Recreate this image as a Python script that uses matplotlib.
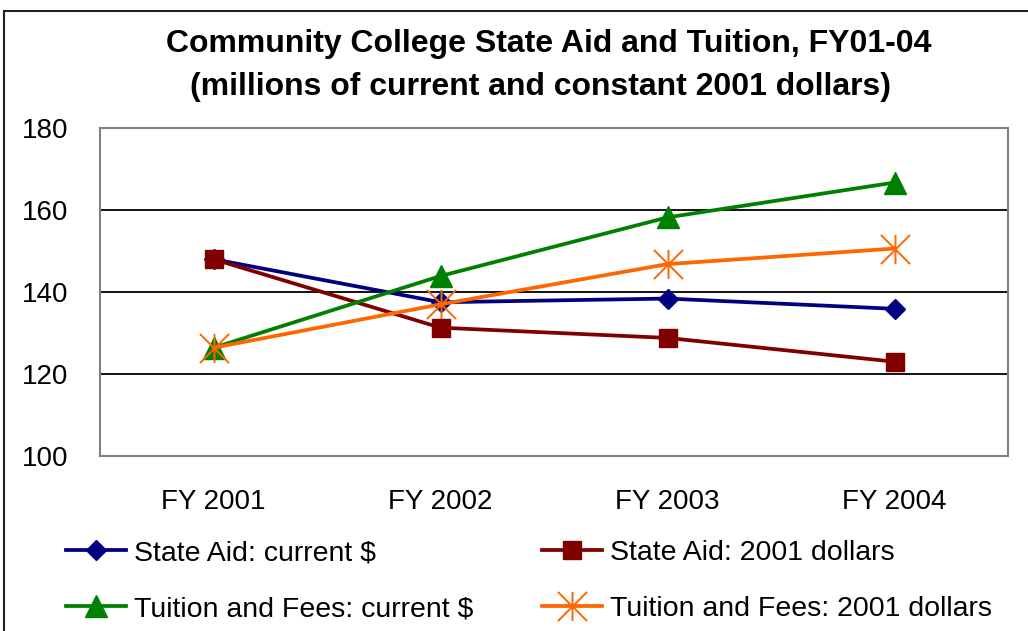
import matplotlib
matplotlib.use("Agg")
import matplotlib.pyplot as plt
from matplotlib.path import Path
from matplotlib.patches import Rectangle

plt.rcParams["font.family"] = ["Liberation Sans", "DejaVu Sans"]

# データ（百万ドル）
YEARS = ["FY 2001", "FY 2002", "FY 2003", "FY 2004"]
AID_CURRENT = [148.0, 137.5, 138.4, 135.9]
AID_2001 = [148.0, 131.3, 128.8, 123.0]
TUITION_CURRENT = [126.4, 143.9, 158.2, 166.7]
TUITION_2001 = [126.4, 137.0, 146.8, 150.6]

LABELS = [
    "State Aid: current $",
    "State Aid: 2001 dollars",
    "Tuition and Fees: current $",
    "Tuition and Fees: 2001 dollars",
]

# 縦線 + X 字のアスタリスク
ASTERISK = Path(
    [(0, -1), (0, 1), (-1, -1), (1, 1), (-1, 1), (1, -1)],
    [Path.MOVETO, Path.LINETO] * 3,
)

STYLES = [
    dict(color="#000080", marker="D", markersize=10.5),
    dict(color="#800000", marker="s", markersize=13.5),
    dict(color="#008000", marker="^", markersize=16),
    dict(color="#FF6600", marker=ASTERISK, markersize=21, markeredgewidth=1.4,
         markerfacecolor="none"),
]


def main() -> None:
    fig = plt.figure(figsize=(10.28, 6.31), dpi=100)
    fig.patch.set_facecolor("white")

    # 外枠（右下は画像外まで続く）
    fig.patches.append(Rectangle((4 / 1028, -0.1), 1.2, 0.1 + (1 - 11 / 631),
                                 transform=fig.transFigure, fill=False,
                                 edgecolor="#222222", linewidth=1.5))

    ax = fig.add_axes([100 / 1028, 1 - 456 / 631, 908 / 1028, 328 / 631])
    x = list(range(len(YEARS)))

    handles = []
    for vals, lbl, st in zip([AID_CURRENT, AID_2001, TUITION_CURRENT, TUITION_2001],
                             LABELS, STYLES):
        (h,) = ax.plot(x, vals, linewidth=2.7, label=lbl, zorder=3, **st)
        handles.append(h)

    ax.set_xlim(-0.5, 3.5)
    ax.set_ylim(100, 180)
    ax.set_yticks([100, 120, 140, 160, 180])
    ax.set_xticks(x)
    ax.set_xticklabels(YEARS)
    ax.tick_params(axis="both", length=0, labelsize=20)
    ax.tick_params(axis="y", pad=23)
    ax.tick_params(axis="x", pad=24)
    ax.grid(axis="y", color="black", linewidth=1.3)
    for sp in ax.spines.values():
        sp.set_color("#808080")
        sp.set_linewidth(1.5)

    fig.text(549 / 1028, 1 - 44 / 631, "Community College State Aid and Tuition, FY01-04",
             ha="center", va="center", fontsize=23, fontweight="bold")
    fig.text(541 / 1028, 1 - 87 / 631, "(millions of current and constant 2001 dollars)",
             ha="center", va="center", fontsize=23, fontweight="bold")

    # 凡例：2行×2列（列方向に詰まるので順序を入れ替える）
    order = [0, 2, 1, 3]
    fig.legend([handles[i] for i in order], [LABELS[i] for i in order],
               ncol=2, loc="upper left", bbox_to_anchor=(55 / 1028, 1 - 529 / 631),
               frameon=False, fontsize=20.5, handlelength=2.1, handletextpad=0.28,
               columnspacing=2.4, labelspacing=1.05, borderaxespad=0)

    fig.savefig("out.png", dpi=100, facecolor="white")
    plt.close(fig)


if __name__ == "__main__":
    main()
